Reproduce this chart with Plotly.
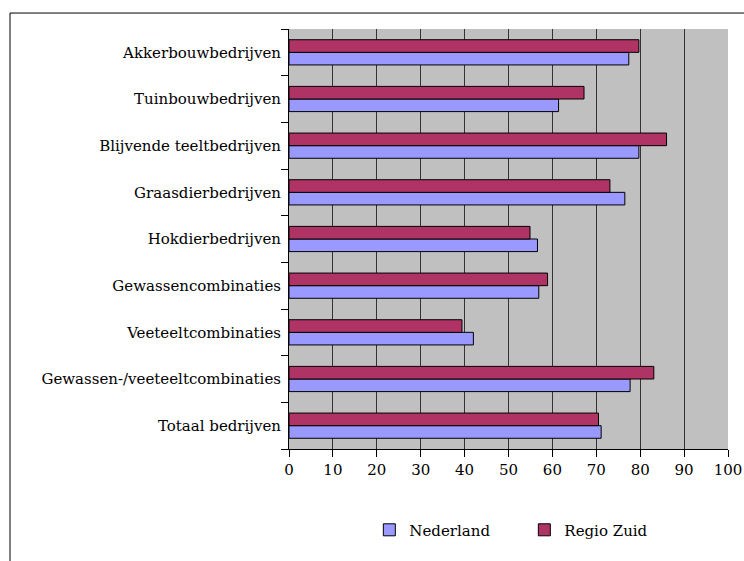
import plotly.graph_objects as go

# categories from bottom to top (Excel order)
categories = [
    "Totaal bedrijven",
    "Gewassen-/veeteeltcombinaties",
    "Veeteeltcombinaties",
    "Gewassencombinaties",
    "Hokdierbedrijven",
    "Graasdierbedrijven",
    "Blijvende teeltbedrijven",
    "Tuinbouwbedrijven",
    "Akkerbouwbedrijven",
]
nederland = [71.1, 77.7, 42.0, 56.9, 56.6, 76.5, 79.7, 61.4, 77.4]
regio_zuid = [70.5, 83.1, 39.4, 58.9, 54.9, 73.1, 86.0, 67.2, 79.7]
x_ticks = [0, 10, 20, 30, 40, 50, 60, 70, 80, 90, 100]

font = {"family": "DejaVu Serif", "size": 15, "color": "black"}

fig = go.Figure()
fig.add_trace(go.Bar(
    y=categories, x=nederland, name="Nederland", orientation="h",
    marker={"color": "#9999FF", "line": {"color": "black", "width": 1}},
))
fig.add_trace(go.Bar(
    y=categories, x=regio_zuid, name="Regio Zuid", orientation="h",
    marker={"color": "#B03366", "line": {"color": "black", "width": 1}},
))

fig.update_layout(
    template=None,
    width=744, height=561,
    margin={"l": 289, "r": 16, "t": 29, "b": 112},
    barmode="group", bargap=0.46, bargroupgap=0,
    plot_bgcolor="#C0C0C0", paper_bgcolor="white",
    font=font,
    legend={"orientation": "h", "x": 0.183, "xanchor": "left",
            "y": -0.193, "yanchor": "middle", "entrywidth": 110,
            "font": font, "itemwidth": 30},
    shapes=[{"type": "rect", "xref": "paper", "yref": "paper",
             "x0": -0.6355, "x1": 1.2, "y0": -0.5, "y1": 1.038,
             "line": {"color": "black", "width": 1}, "layer": "below"}],
)
fig.update_xaxes(
    automargin=False,
    range=[0, 100], tickvals=x_ticks, showgrid=True, gridcolor="#333333", gridwidth=1,
    zeroline=False, showline=True, linecolor="black", linewidth=1,
    ticks="outside", ticklen=7, tickcolor="black", tickfont=font, fixedrange=True,
)
fig.update_yaxes(
    automargin=False,
    showgrid=False, showline=True, linecolor="black", linewidth=1,
    ticks="outside", ticklen=7, tickcolor="black", tickson="boundaries",
    ticklabelstandoff=4, tickfont=font,
)

# drop the default 8px page margin so the figure fills the window exactly
fig.write_html("out.html", config={"displayModeBar": False},
               post_script="document.body.style.margin='0';")
